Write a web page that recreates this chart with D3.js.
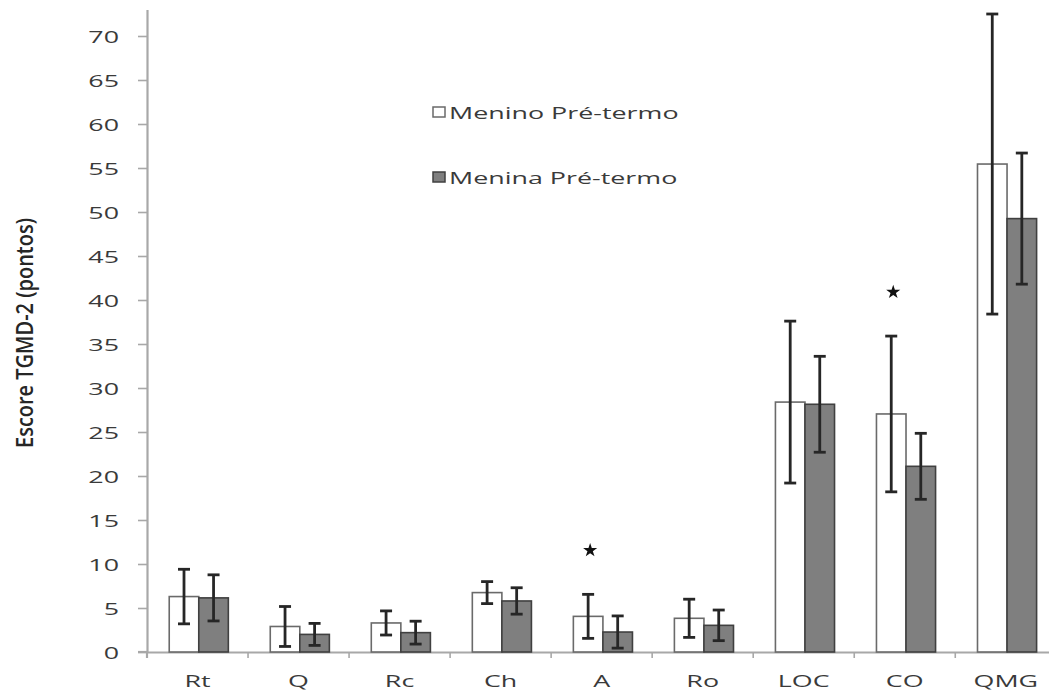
<!DOCTYPE html>
<html>
<head>
<meta charset="utf-8">
<script src="https://cdn.jsdelivr.net/npm/d3@7"></script>
<style>
  html, body { margin: 0; padding: 0; background: #fff; }
  svg { display: block; }
  text { font-family: "Open Sans", "DejaVu Sans", sans-serif; }
</style>
</head>
<body>
<svg id="chart" width="1049" height="693"></svg>
<script>
// ---- data ----
const categories = ["Rt", "Q", "Rc", "Ch", "A", "Ro", "LOC", "CO", "QMG"];
const series = ["Menino Pré-termo", "Menina Pré-termo"];
const meninoMean = [6.3, 2.9, 3.3, 6.75, 4.05, 3.83, 28.4, 27.05, 55.45];
const meninoSD   = [3.1, 2.27, 1.37, 1.25, 2.5, 2.17, 9.2, 8.85, 17.05];
const meninaMean = [6.15, 2.0, 2.2, 5.8, 2.27, 3.03, 28.15, 21.1, 49.25];
const meninaSD   = [2.62, 1.25, 1.3, 1.5, 1.83, 1.74, 5.45, 3.75, 7.45];
const yTicks = [0, 5, 10, 15, 20, 25, 30, 35, 40, 45, 50, 55, 60, 65, 70];
const significant = ["A", "CO"];
const yTitle = "Escore TGMD-2 (pontos)";

(function () {
// ---- layout ----
const svg = d3.select("#chart");
const mLeft = 147, mBottom = 652, mTop = 9.6, mRight = 1056.3;
const SX = 1.58; // horizontal stretch of text seen in the reference

const x = d3.scaleBand().domain(categories).range([mLeft, mRight]).padding(0);
const bw = x.bandwidth();
const x1 = d3.scaleBand().domain(series).range([bw * 0.22, bw * 0.805]).padding(0);
const y = d3.scaleLinear().domain([0, 73]).range([mBottom, mTop]);

const rows = categories.map((c, i) => ({
  cat: c,
  vals: [
    { s: series[0], mean: meninoMean[i], sd: meninoSD[i] },
    { s: series[1], mean: meninaMean[i], sd: meninaSD[i] }
  ]
}));

const fills = { [series[0]]: "#ffffff", [series[1]]: "#7f7f7f" };
const strokes = { [series[0]]: "#6a6a6a", [series[1]]: "#404040" };

// ---- y axis ----
const yAxis = svg.append("g").attr("transform", `translate(${mLeft},0)`)
  .call(d3.axisLeft(y).tickValues(yTicks).tickSize(9).tickSizeOuter(0).tickPadding(0));
yAxis.select(".domain").attr("stroke", "#a8a8a8").attr("stroke-width", 2.2);
yAxis.selectAll(".tick line").attr("stroke", "#a8a8a8").attr("stroke-width", 1.6);
yAxis.selectAll(".tick text").remove();
svg.append("line").attr("x1", mLeft).attr("x2", mLeft)
  .attr("y1", mBottom).attr("y2", mBottom + 6)
  .attr("stroke", "#a8a8a8").attr("stroke-width", 2.2);
svg.append("g").selectAll("text").data(yTicks).join("text")
  .attr("transform", d => `translate(119,${y(d) + 7}) scale(${SX},1)`)
  .attr("text-anchor", "end")
  .attr("font-size", 17)
  .attr("fill", "#3a3a3a")
  .text(d => d);

// ---- x axis ----
const xAxis = svg.append("g").attr("transform", `translate(0,${mBottom})`)
  .call(d3.axisBottom(x).tickSize(0).tickSizeOuter(0));
xAxis.select(".domain").attr("stroke", "#a8a8a8").attr("stroke-width", 2.2);
xAxis.selectAll(".tick text").remove();
svg.append("line").attr("x1", mLeft - 9).attr("x2", mLeft)
  .attr("y1", mBottom).attr("y2", mBottom)
  .attr("stroke", "#a8a8a8").attr("stroke-width", 2.2);
svg.append("g").selectAll("line").data(categories.slice(1)).join("line")
  .attr("x1", d => x(d)).attr("x2", d => x(d))
  .attr("y1", mBottom).attr("y2", mBottom + 6)
  .attr("stroke", "#a8a8a8").attr("stroke-width", 1.6);
svg.append("g").selectAll("text").data(categories).join("text")
  .attr("transform", d => `translate(${x(d) + bw / 2},687) scale(${SX},1)`)
  .attr("text-anchor", "middle")
  .attr("font-size", 17)
  .attr("fill", "#3a3a3a")
  .text(d => d);

// ---- bars ----
const groups = svg.append("g").selectAll("g").data(rows).join("g")
  .attr("transform", d => `translate(${x(d.cat)},0)`);
groups.selectAll("rect").data(d => d.vals).join("rect")
  .attr("x", d => x1(d.s))
  .attr("width", x1.bandwidth())
  .attr("y", d => y(d.mean))
  .attr("height", d => y(0) - y(d.mean))
  .attr("fill", d => fills[d.s])
  .attr("stroke", d => strokes[d.s])
  .attr("stroke-width", 1.6);

// ---- error bars ----
const cap = 6;
const eb = groups.selectAll("g.eb").data(d => d.vals).join("g").attr("class", "eb")
  .attr("stroke", "#262626").attr("stroke-width", 2.8);
const cx = d => x1(d.s) + x1.bandwidth() / 2;
eb.append("line")
  .attr("x1", cx).attr("x2", cx)
  .attr("y1", d => y(d.mean + d.sd)).attr("y2", d => y(Math.max(0, d.mean - d.sd)));
eb.append("line")
  .attr("x1", d => cx(d) - cap).attr("x2", d => cx(d) + cap)
  .attr("y1", d => y(d.mean + d.sd)).attr("y2", d => y(d.mean + d.sd));
eb.append("line")
  .attr("x1", d => cx(d) - cap).attr("x2", d => cx(d) + cap)
  .attr("y1", d => y(Math.max(0, d.mean - d.sd))).attr("y2", d => y(Math.max(0, d.mean - d.sd)));

// ---- significance stars ----
svg.append("g").selectAll("path").data(rows.filter(r => significant.includes(r.cat))).join("path")
  .attr("d", d3.symbol(d3.symbolStar, 62))
  .attr("transform", d => `translate(${x(d.cat) + cx(d.vals[0]) + 2},${y(d.vals[0].mean + d.vals[0].sd + 5)})`)
  .attr("fill", "#111");

// ---- legend ----
const legendY = [112, 177];
const leg = svg.append("g").selectAll("g").data(series).join("g")
  .attr("transform", (d, i) => `translate(433,${legendY[i]})`);
leg.append("rect").attr("x", 0).attr("y", -5).attr("width", 12).attr("height", 10)
  .attr("fill", d => fills[d]).attr("stroke", d => strokes[d]).attr("stroke-width", 1.5);
leg.append("text")
  .attr("transform", `translate(16,6.5) scale(${SX},1)`)
  .attr("font-size", 17)
  .attr("fill", "#3a3a3a")
  .text(d => d);

// ---- y title ----
svg.append("text")
  .attr("transform", `translate(33,333) scale(1.6,1) rotate(-90)`)
  .attr("text-anchor", "middle")
  .attr("font-size", 15)
  .attr("font-weight", 600)
  .attr("fill", "#262626")
  .attr("textLength", 230)
  .attr("lengthAdjust", "spacingAndGlyphs")
  .text(yTitle);
})();
</script>
</body>
</html>
